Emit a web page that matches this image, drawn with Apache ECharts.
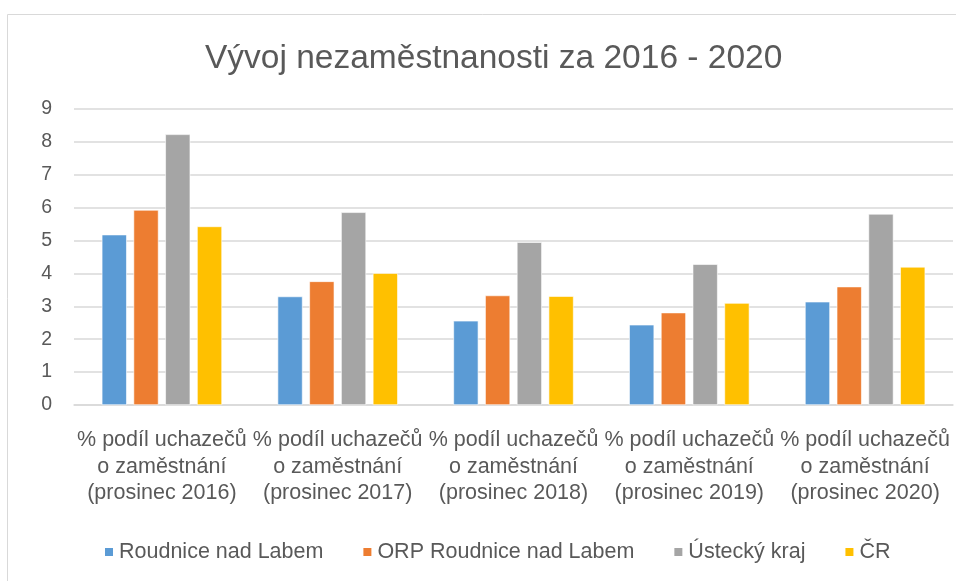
<!DOCTYPE html>
<html>
<head>
<meta charset="utf-8">
<script src="https://cdn.jsdelivr.net/npm/echarts@6/dist/echarts.min.js"></script>
<style>
  html, body { margin: 0; padding: 0; background: #fff; }
  #chart { width: 956px; height: 581px; }
</style>
</head>
<body>
<div id="chart"></div>
<script>
var categories = [
    '% podíl uchazečů\no zaměstnání\n(prosinec 2016)',
    '% podíl uchazečů\no zaměstnání\n(prosinec 2017)',
    '% podíl uchazečů\no zaměstnání\n(prosinec 2018)',
    '% podíl uchazečů\no zaměstnání\n(prosinec 2019)',
    '% podíl uchazečů\no zaměstnání\n(prosinec 2020)'
];
var seriesNames = ['Roudnice nad Labem', 'ORP Roudnice nad Labem', 'Ústecký kraj', 'ČR'];
var roudnice = [5.18, 3.30, 2.56, 2.44, 3.14];
var orpRoudnice = [5.93, 3.76, 3.33, 2.81, 3.60];
var ustecky = [8.23, 5.86, 4.95, 4.28, 5.81];
var cr = [5.43, 4.01, 3.31, 3.10, 4.20];
var yTicks = [0, 1, 2, 3, 4, 5, 6, 7, 8, 9];

var colors = ['#5B9BD5', '#ED7D31', '#A5A5A5', '#FFC000'];
var font = 'Liberation Sans';
var textColor = '#595959';

var chart = echarts.init(document.getElementById('chart'));

// one bar series per region
var seriesData = [roudnice, orpRoudnice, ustecky, cr];
var series = seriesData.map(function (vals, i) {
    return {
        name: seriesNames[i],
        type: 'bar',
        data: vals,
        barWidth: 25,
        barGap: '27%',
        itemStyle: { color: colors[i], borderColor: '#fff', borderWidth: 0.6 },
        animation: false
    };
});

chart.setOption({
    animation: false,
    color: colors,
    textStyle: { fontFamily: font },
    title: {
        text: 'Vývoj nezaměstnanosti za 2016 - 2020',
        left: 200,
        top: 37,
        textStyle: { fontFamily: font, fontSize: 33.5, fontWeight: 'normal', color: textColor }
    },
    graphic: [{
        type: 'rect',
        shape: { x: 7.5, y: 14.5, width: 980, height: 600 },
        style: { fill: 'none', stroke: '#d9d9d9', lineWidth: 1 },
        silent: true
    }],
    legend: {
        data: seriesNames,
        left: 98,
        top: 536,
        itemWidth: 10,
        itemHeight: 10,
        itemGap: 38,
        icon: 'rect',
        textStyle: { fontFamily: font, fontSize: 21.5, color: textColor }
    },
    grid: { left: 74, right: 3, top: 109, bottom: 176 },
    xAxis: {
        type: 'category',
        data: categories,
        axisLine: { lineStyle: { color: '#d9d9d9', width: 1.5 } },
        axisTick: { show: false },
        axisLabel: {
            interval: 0,
            margin: 22,
            fontFamily: font,
            fontSize: 21.5,
            lineHeight: 26.5,
            color: textColor
        }
    },
    yAxis: {
        type: 'value',
        min: yTicks[0],
        max: yTicks[yTicks.length - 1],
        interval: 1,
        axisLine: { show: false },
        axisTick: { show: false },
        splitLine: { lineStyle: { color: '#d9d9d9', width: 1.5 } },
        axisLabel: {
            margin: 22,
            fontFamily: font,
            fontSize: 19.5,
            color: textColor
        }
    },
    series: series
});
</script>
</body>
</html>
